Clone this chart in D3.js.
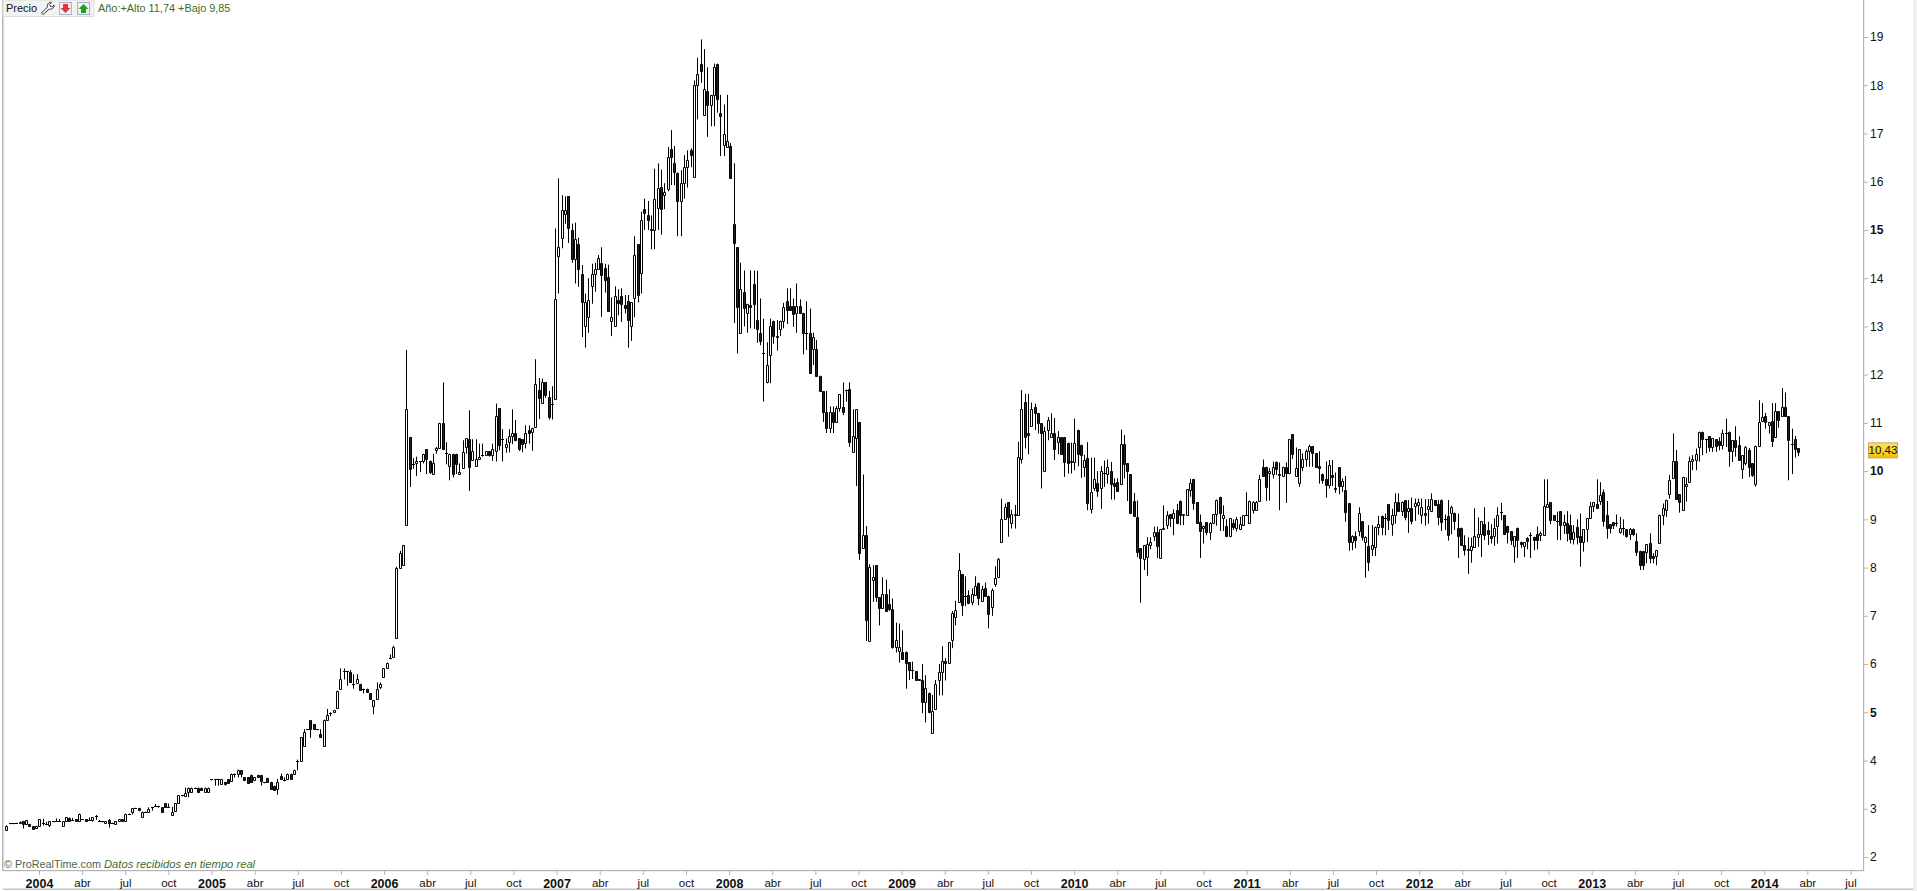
<!DOCTYPE html>
<html lang="es"><head><meta charset="utf-8">
<script src="https://cdn.jsdelivr.net/npm/d3@7/dist/d3.min.js"></script>
<style>html,body{margin:0;padding:0;background:#fff;overflow:hidden}svg{display:block}text{font-family:"Liberation Sans",Arial,sans-serif}</style>
</head><body><div id="chart"></div>
<script>
// each row: open, high, low, close (weekly)
const candlesA=[[2.55,2.66,2.55,2.65],[2.7,2.7,2.7,2.7],[2.7,2.7,2.7,2.7],[2.71,2.71,2.71,2.71],[2.7,2.74,2.7,2.73],[2.74,2.75,2.59,2.69],[2.69,2.77,2.69,2.76],[2.69,2.69,2.62,2.64],[2.64,2.64,2.58,2.58],[2.6,2.65,2.6,2.65],
[2.65,2.78,2.65,2.78],[2.71,2.79,2.65,2.71],[2.69,2.73,2.66,2.69],[2.66,2.74,2.62,2.74],[2.74,2.74,2.74,2.74],[2.75,2.8,2.73,2.75],[2.75,2.79,2.73,2.75],[2.65,2.74,2.65,2.74],[2.74,2.82,2.74,2.82],[2.81,2.82,2.73,2.75],
[2.77,2.81,2.75,2.77],[2.78,2.78,2.73,2.74],[2.74,2.9,2.74,2.9],[2.79,2.79,2.78,2.79],[2.78,2.78,2.73,2.74],[2.77,2.82,2.76,2.77],[2.77,2.82,2.73,2.82],[2.86,2.87,2.77,2.86],[2.75,2.77,2.74,2.75],[2.74,2.74,2.74,2.74],
[2.7,2.74,2.7,2.74],[2.77,2.79,2.61,2.7],[2.71,2.71,2.71,2.71],[2.69,2.74,2.69,2.74],[2.74,2.78,2.74,2.78],[2.78,2.78,2.73,2.74],[2.74,2.9,2.74,2.9],[2.9,2.9,2.9,2.9],[2.93,3.01,2.88,3.01],[3.02,3.02,3.02,3.02],
[3.02,3.02,2.95,2.97],[2.83,2.94,2.83,2.94],[2.94,2.94,2.94,2.94],[2.94,3.03,2.94,2.99],[3.03,3.03,2.96,3.03],[3.06,3.1,3.04,3.06],[3.06,3.06,3.02,3.06],[3.03,3.03,2.94,2.94],[3.11,3.11,3.03,3.03],[3.03,3.11,3.03,3.03],
[2.88,3.04,2.88,2.94],[2.96,3.11,2.96,3.11],[3.11,3.28,3.11,3.28],[3.28,3.28,3.28,3.28],[3.27,3.44,3.27,3.32],[3.35,3.44,3.24,3.44],[3.35,3.44,3.35,3.44],[3.44,3.44,3.44,3.44],[3.44,3.44,3.35,3.35],[3.44,3.44,3.38,3.38],
[3.35,3.44,3.35,3.44],[3.35,3.44,3.35,3.44],[3.61,3.61,3.61,3.61],[3.61,3.61,3.48,3.61],[3.62,3.62,3.48,3.62],[3.52,3.62,3.52,3.62],[3.56,3.56,3.48,3.52],[3.61,3.61,3.52,3.53],[3.57,3.73,3.57,3.73],[3.73,3.73,3.65,3.73],
[3.73,3.81,3.65,3.81],[3.8,3.8,3.65,3.73],[3.65,3.65,3.6,3.6],[3.66,3.66,3.54,3.54],[3.71,3.71,3.56,3.56],[3.6,3.66,3.6,3.66],[3.71,3.71,3.66,3.66],[3.69,3.69,3.48,3.58],[3.55,3.55,3.55,3.55],[3.64,3.64,3.56,3.56],
[3.56,3.56,3.42,3.42],[3.48,3.48,3.38,3.38],[3.42,3.62,3.29,3.56],[3.67,3.73,3.61,3.61],[3.6,3.65,3.57,3.6],[3.61,3.73,3.61,3.73],[3.73,3.73,3.61,3.61],[3.73,3.81,3.73,3.81],[3.99,4.02,3.8,3.99],[3.99,4.48,3.99,4.48],
[4.31,4.65,4.31,4.6],[4.65,4.65,4.65,4.65],[4.84,4.84,4.47,4.65],[4.75,4.76,4.65,4.65],[4.65,4.65,4.65,4.65],[4.56,4.65,4.49,4.49],[4.31,4.85,4.31,4.85],[4.85,5.07,4.85,4.95],[4.98,5.0,4.92,4.98],[5.0,5.05,5.0,5.05],
[5.09,5.45,5.09,5.45],[5.49,5.91,5.49,5.7],[5.86,5.91,5.68,5.86],[5.86,5.86,5.55,5.86],[5.84,5.88,5.63,5.63],[5.59,5.79,5.49,5.59],[5.6,5.79,5.6,5.7],[5.59,5.59,5.46,5.46],[5.49,5.49,5.39,5.49],[5.49,5.49,5.42,5.42],
[5.39,5.39,5.28,5.28],[5.14,5.25,4.96,5.25],[5.28,5.62,5.28,5.49],[5.52,5.62,5.48,5.59],[5.74,5.91,5.74,5.91],[5.91,6.03,5.91,6.03],[6.12,6.2,6.1,6.12],[6.14,6.38,6.14,6.35],[6.55,8.02,6.55,8.0],[8.0,8.35,8.0,8.3]];
const candlesB=[[8.05,8.47,8.05,8.46],[8.89,12.51,8.89,11.28],[10.71,10.71,9.67,10.05],[10.15,10.27,10.05,10.15],[10.16,10.3,9.9,10.21],[10.2,10.2,9.98,10.2],[10.2,10.36,10.16,10.36],[10.45,10.45,9.94,10.25],[10.22,10.22,9.94,9.98],[9.94,10.36,9.94,10.16],
[10.43,10.5,10.36,10.47],[10.48,11.0,10.48,11.0],[11.0,11.84,10.45,10.45],[10.38,10.6,10.14,10.38],[10.11,10.36,9.81,10.36],[10.36,10.36,9.87,9.94],[10.36,10.36,9.94,10.15],[9.94,10.16,9.94,9.99],[10.07,10.64,10.07,10.39],[10.49,10.68,10.36,10.68],
[10.66,11.26,9.59,10.09],[10.23,10.66,10.23,10.42],[10.1,10.66,10.1,10.25],[10.25,10.57,10.25,10.3],[10.34,10.57,10.3,10.34],[10.34,10.42,10.34,10.42],[10.42,10.42,10.3,10.34],[10.34,10.57,10.21,10.45],[10.42,11.4,10.2,11.15],[11.3,11.3,10.43,10.55],
[10.66,10.87,10.2,10.66],[10.5,10.68,10.38,10.57],[10.6,10.87,10.39,10.73],[10.73,11.28,10.56,10.78],[10.78,11.06,10.62,10.64],[10.68,10.68,10.42,10.45],[10.66,10.66,10.39,10.57],[10.59,10.95,10.47,10.79],[10.86,10.95,10.57,10.79],[10.82,10.9,10.42,10.9],
[10.92,12.32,10.92,11.8],[11.68,11.93,11.08,11.51],[11.42,11.92,11.42,11.84],[11.84,11.84,11.52,11.57],[11.53,11.66,11.07,11.13],[11.39,11.76,11.07,11.39]];
const candlesC=[[11.5,15.03,11.5,13.56],[14.46,16.07,13.68,14.65],[14.84,15.72,14.62,15.42],[15.34,15.7,15.13,15.42],[15.7,15.7,14.73,15.04],[15.0,15.13,14.32,14.39],[14.39,15.15,13.89,14.82],[14.7,14.84,13.82,14.2],[14.08,14.27,12.78,13.51],[13.0,13.68,12.56,13.5],
[13.2,14.0,12.87,13.54],[13.84,14.3,13.47,14.08],[14.08,14.32,13.72,14.2],[14.2,14.48,14.2,14.42],[14.32,14.64,13.2,14.06],[14.22,14.3,13.7,13.96],[14.02,14.28,13.32,13.32],[13.12,13.6,12.8,13.2],[13.0,13.83,13.0,13.64],[13.54,13.77,13.23,13.49],
[13.64,13.79,13.09,13.46],[13.44,13.65,13.27,13.39],[13.52,13.65,12.56,13.14],[13.0,13.5,12.7,13.5],[13.58,14.87,13.19,14.49],[14.7,14.7,13.5,13.66],[14.1,15.38,13.68,15.2],[15.44,15.65,15.0,15.35],[15.3,15.6,15.0,15.2],[15.01,15.3,14.6,14.99],
[14.99,16.27,14.6,15.65],[15.46,16.38,15.0,15.86],[15.88,16.25,14.9,15.44],[15.73,15.97,15.43,15.79],[15.85,16.72,15.8,16.52],[16.67,17.07,15.93,16.52],[16.38,16.74,15.93,16.2],[16.19,16.19,14.87,15.6],[15.6,16.24,14.87,15.98],[15.98,16.55,15.65,16.3],
[16.3,16.65,15.88,16.44],[16.65,16.69,16.3,16.56],[16.1,18.1,16.1,18.0],[18.0,18.57,17.29,18.24],[18.45,18.95,18.05,18.3],[17.38,18.75,17.36,17.93],[17.89,18.37,16.93,17.6],[17.6,17.8,17.15,17.79],[17.79,18.45,17.15,18.37],[18.45,18.45,17.43,17.72],
[17.43,17.8,16.53,17.36],[16.77,17.6,16.53,16.98],[16.72,17.8,16.7,16.84],[16.73,16.8,16.08,16.08]];
const candlesD=[[15.13,16.38,13.07,14.72],[14.64,14.64,12.44,13.41],[12.87,14.32,12.87,13.77],[13.72,14.16,13.0,13.39],[13.28,13.47,12.87,13.47],[13.45,14.16,12.96,13.41],[13.87,14.16,12.95,13.46],[13.13,14.15,12.66,12.95],[12.87,13.58,12.61,12.7],[12.44,13.16,11.44,12.44],
[11.85,12.67,11.82,12.21],[12.41,13.16,11.82,13.01],[13.12,13.12,12.64,12.8],[12.8,13.13,12.5,12.78],[12.95,13.12,12.8,13.12],[13.12,13.49,12.96,13.41],[13.52,13.79,13.05,13.33],[13.43,13.79,13.33,13.33],[13.43,13.58,12.99,13.26],[13.27,13.89,12.87,13.42],
[13.42,13.56,13.27,13.27],[13.28,13.28,12.42,12.87],[12.87,13.52,12.51,12.87],[12.87,13.37,12.04,12.04],[12.54,12.87,12.2,12.79],[12.54,12.72,11.98,11.98],[11.98,11.98,11.66,11.66],[11.66,11.66,11.02,11.23],[11.23,11.66,10.79,10.9],[10.9,11.34,10.79,11.23],
[11.23,11.34,10.79,11.02],[11.02,11.35,11.02,11.3],[11.3,11.59,11.23,11.59],[11.33,11.84,11.16,11.23],[11.69,11.69,11.44,11.69],[11.71,11.84,10.5,10.61],[10.4,11.28,10.4,10.73],[10.68,11.28,9.69,11.28],[11.01,11.01,8.16,8.31],[8.4,9.93,8.4,8.67],
[8.67,8.86,6.48,6.92],[6.48,8.07,6.48,8.01],[7.75,8.05,7.29,7.8],[8.05,8.05,7.29,7.38],[7.38,7.38,6.8,7.17],[7.17,7.8,7.17,7.45],[7.45,7.75,7.1,7.1],[7.24,7.55,7.1,7.15],[7.15,7.36,6.32,6.36],[6.36,6.86,6.24,6.49],
[6.27,6.84,6.03,6.36],[6.26,6.7,6.11,6.11],[6.26,6.26,5.49,6.03],[6.04,6.04,5.67,5.88],[5.88,6.05,5.69,5.88],[5.85,5.86,5.66,5.66],[5.68,5.68,5.66,5.66],[5.66,6.0,4.98,5.22],[5.22,5.77,4.79,5.5],[5.41,5.41,4.98,5.01],
[4.58,5.36,4.58,5.03],[5.06,5.67,5.06,5.58],[5.66,6.0,5.35,5.83],[5.84,6.37,5.35,6.06],[6.06,6.12,5.66,6.02],[6.02,6.45,6.02,6.45],[6.5,7.1,6.33,7.05],[6.98,7.31,6.8,7.13],[7.29,8.3,7.29,7.94],[7.87,7.87,7.0,7.22],
[7.42,7.82,7.2,7.42],[7.43,7.53,7.24,7.26],[7.29,7.57,7.22,7.46],[7.43,7.82,7.43,7.61],[7.69,7.69,7.22,7.37],[7.31,7.62,7.31,7.55],[7.57,7.69,7.42,7.42],[7.42,7.42,6.74,7.03],[7.19,7.57,7.0,7.53],[7.67,8.03,7.6,7.79],
[7.8,8.2,7.8,8.17]];
const candlesE=[[8.54,9.43,8.54,9.0],[9.0,9.33,9.0,9.26],[9.35,9.35,8.64,9.04],[8.92,9.2,8.81,9.12],[9.11,9.3,8.81,9.08],[9.09,10.61,9.09,10.3],[10.26,11.68,10.16,11.28],[11.44,11.6,10.47,10.7],[10.78,11.6,10.35,10.74],[10.93,11.42,10.93,11.28],
[11.32,11.4,10.85,11.2],[11.2,11.2,10.78,10.99],[10.99,10.99,9.64,10.78],[10.01,10.92,10.01,10.84],[10.85,11.12,10.64,11.05],[10.7,11.2,10.7,10.78],[10.8,11.1,10.23,10.46],[10.61,10.83,10.35,10.7],[10.7,10.7,10.35,10.35],[10.7,10.7,9.88,10.19],
[10.59,10.59,9.95,10.17],[10.22,10.59,9.95,10.18],[10.19,11.09,10.02,10.59],[10.86,10.86,10.1,10.35],[10.55,10.55,9.86,10.34],[10.08,10.34,9.88,10.23],[10.28,10.6,9.19,9.33],[9.22,10.28,9.12,9.57],[9.66,10.28,9.59,9.83],[9.76,10.0,9.47,9.59],
[9.66,10.1,9.22,10.01],[9.97,10.22,9.67,9.97],[9.94,10.24,9.74,10.08],[10.01,10.19,9.41,9.74],[9.76,9.85,9.41,9.7],[9.78,9.85,9.58,9.58],[9.74,10.86,9.74,10.57],[10.57,10.75,9.85,10.14],[10.16,10.16,9.38,10.0],[9.94,9.94,9.14,9.14],
[9.39,9.55,9.06,9.06],[9.05,9.39,8.22,8.33],[8.4,8.4,7.27,8.19],[8.18,8.47,7.95,8.47],[8.22,8.63,7.83,8.49],[8.46,8.63,8.38,8.54],[8.65,8.85,8.55,8.73],[8.73,8.85,8.2,8.45],[8.2,8.79,8.2,8.79],[8.82,9.29,8.8,8.79],
[8.88,9.17,8.8,9.09],[9.11,9.11,8.84,9.03],[9.02,9.21,8.67,9.14],[9.2,9.32,8.9,8.93],[9.39,9.39,8.88,9.08],[9.08,9.11,8.88,9.11],[9.09,9.62,9.09,9.62],[9.6,9.84,9.47,9.76],[9.84,9.84,9.2,9.34],[9.35,9.35,8.91,8.93],
[8.94,9.1,8.2,8.76],[8.83,8.87,8.5,8.87],[8.94,8.94,8.67,8.74],[8.74,8.94,8.57,8.93],[8.93,9.11,8.93,9.11],[9.11,9.41,8.87,9.41],[9.47,9.47,8.76,9.14],[9.03,9.29,8.76,9.08],[8.86,9.0,8.63,8.66],[8.66,9.02,8.63,9.02],
[8.93,9.0,8.78,8.84],[8.83,9.05,8.75,9.0],[8.81,9.05,8.81,8.9],[8.89,9.09,8.89,9.09],[9.09,9.56,9.09,9.09],[8.93,9.39,8.93,9.39],[9.19,9.38,9.12,9.36],[9.2,9.38,9.2,9.37],[9.38,9.92,9.38,9.83],[10.09,10.24,9.9,9.9],
[10.09,10.09,9.38,9.67],[9.97,10.06,9.39,10.0],[9.93,10.2,9.85,10.09],[10.18,10.2,9.92,10.05],[9.95,10.18,9.19,9.91],[9.9,10.09,9.9,10.09],[10.09,10.18,9.34,9.97],[9.97,10.66,9.97,10.66]];
const candlesF=[[10.77,10.77,10.25,10.36],[9.9,10.49,9.9,10.07],[9.76,10.45,9.67,10.45],[10.09,10.37,10.0,10.26],[10.26,10.45,10.09,10.41],[10.42,10.55,10.09,10.52],[10.52,10.52,10.09,10.37],[10.37,10.37,10.09,10.09],[10.11,10.41,9.74,10.07],[9.94,9.95,9.74,9.81],
[9.83,10.2,9.45,9.72],[9.72,10.23,9.64,10.12],[9.91,10.23,9.69,9.87],[9.66,9.97,9.55,9.63],[10.08,10.08,9.52,9.7],[9.7,9.85,9.57,9.8],[9.6,9.9,8.95,9.16],[9.33,9.33,8.35,8.54],[8.54,8.67,8.36,8.65],[8.65,8.75,8.4,8.58],
[8.76,9.25,8.65,9.14],[8.96,8.96,8.56,8.63],[8.54,8.65,7.79,8.63],[8.44,8.88,7.93,8.12],[8.38,8.88,8.24,8.46],[8.43,8.85,8.24,8.85],[8.85,9.07,8.67,8.9],[9.06,9.08,8.67,8.85],[9.03,9.12,8.67,9.03],[9.31,9.31,8.78,8.98],
[8.91,9.22,8.66,9.09],[9.09,9.54,8.91,9.37],[9.37,9.54,9.18,9.18],[9.18,9.37,9.07,9.37],[9.4,9.4,8.98,9.04],[9.18,9.4,8.72,9.24],[9.24,9.45,8.9,8.97],[9.27,9.43,8.97,9.34],[9.3,9.43,9.1,9.37],[9.09,9.43,8.91,9.25],
[9.14,9.42,8.87,9.09],[9.21,9.42,8.91,9.27],[9.17,9.54,9.17,9.43],[9.4,9.4,9.3,9.3],[9.31,9.4,8.88,9.05],[9.41,9.41,8.76,8.95],[9.0,9.1,8.78,9.0],[9.07,9.4,8.56,8.67],[9.14,9.28,8.69,9.25],[9.14,9.14,8.78,8.97],
[8.83,9.12,8.2,8.66],[8.83,8.83,8.47,8.47],[8.47,8.67,8.25,8.37],[8.38,8.63,7.87,8.36],[8.37,8.62,8.1,8.44],[8.43,9.23,8.43,8.65],[8.63,9.04,8.43,8.7],[8.69,8.96,8.22,8.96],[8.9,9.25,8.57,8.67],[8.77,8.95,8.47,8.69],
[8.65,8.9,8.5,8.62],[8.66,9.02,8.45,8.82],[8.87,9.25,8.5,9.08],[9.16,9.34,8.98,9.16],[9.09,9.09,8.7,8.7],[8.87,8.87,8.5,8.74],[8.75,8.75,8.47,8.57],[8.45,8.65,8.1,8.65],[8.83,8.83,8.2,8.57],[8.54,8.54,8.41,8.49],
[8.44,8.53,8.22,8.53],[8.61,8.63,8.38,8.56],[8.68,8.73,8.2,8.68],[8.63,8.64,8.36,8.58],[8.69,8.85,8.38,8.58],[8.67,8.75,8.55,8.71],[8.68,9.83,8.68,9.27],[9.26,9.83,9.26,9.31]];
const candlesG=[[9.35,9.35,8.9,8.98],[9.09,9.09,8.98,8.98],[8.96,9.16,8.57,8.96],[9.17,9.17,8.57,8.88],[8.89,9.1,8.7,8.94],[8.93,9.17,8.54,8.72],[8.88,9.1,8.5,8.59],[8.6,8.88,8.48,8.73],[8.84,9.0,8.48,8.64],[8.65,9.12,8.02,8.53],
[8.53,8.8,8.33,8.8],[8.79,9.03,8.53,9.03],[9.03,9.36,9.03,9.27],[9.28,9.35,9.15,9.35],[9.31,9.83,9.23,9.23],[9.39,9.77,9.3,9.5],[9.56,9.62,8.85,8.97],[9.09,9.38,8.6,8.82],[8.9,8.9,8.71,8.82],[8.94,8.94,8.8,8.89],
[8.93,9.1,8.85,8.93],[8.74,9.05,8.7,8.83],[8.83,9.0,8.67,8.83],[8.79,8.79,8.62,8.66],[8.69,8.82,8.57,8.81],[8.79,8.81,8.65,8.69],[8.55,8.71,8.24,8.33],[8.35,8.35,7.95,8.06],[8.34,8.34,7.95,8.06],[8.32,8.49,8.09,8.49],
[8.5,8.71,8.09,8.19],[8.25,8.3,8.09,8.2],[8.25,8.36,8.05,8.36],[8.52,9.1,8.49,9.1],[9.08,9.33,8.88,9.23],[9.2,9.41,9.05,9.41],[9.52,9.92,9.43,9.81],[9.85,10.78,9.85,10.22],[10.22,10.44,9.4,9.42],[9.52,9.52,9.14,9.35],
[9.19,9.88,9.19,9.88],[9.7,9.87,9.37,9.74],[9.78,10.3,9.78,10.22],[10.22,10.33,10.02,10.26],[10.24,10.47,10.02,10.35],[10.5,10.82,10.2,10.82],[10.82,10.82,10.33,10.67],[10.67,10.67,10.37,10.67],[10.72,10.72,10.4,10.5],[10.5,10.68,10.4,10.68],
[10.66,10.66,10.4,10.52],[10.62,10.7,10.43,10.54],[10.55,10.86,10.45,10.78],[10.8,11.09,10.5,10.8],[10.82,10.82,10.09,10.42],[10.42,10.64,10.19,10.64],[10.64,10.93,10.3,10.5],[10.54,10.72,10.22,10.23],[10.05,10.33,9.84,10.33],[10.17,10.52,10.12,10.49],
[10.44,10.48,9.88,10.09],[10.16,10.16,9.88,9.92],[9.73,10.53,9.68,10.53],[10.53,11.47,10.53,11.02],[11.03,11.41,11.03,11.13],[11.14,11.21,10.88,11.02],[10.95,11.02,10.78,11.02],[11.03,11.41,10.5,10.63],[10.71,11.41,10.71,11.24],[11.24,11.24,10.9,11.07],
[11.15,11.72,11.15,11.32],[11.32,11.63,11.14,11.14],[11.14,11.14,9.81,10.64],[10.57,10.88,9.94,10.57],[10.66,10.73,10.28,10.46],[10.47,10.47,10.31,10.4]];

const quarterLabels=["2004","abr","jul","oct","2005","abr","jul","oct","2006","abr","jul","oct","2007","abr","jul","oct","2008","abr","jul","oct","2009","abr","jul","oct","2010","abr","jul","oct","2011","abr","jul","oct","2012","abr","jul","oct","2013","abr","jul","oct","2014","abr","jul"];
const priceTicks=[2,3,4,5,6,7,8,9,10,11,12,13,14,15,16,17,18,19];
const boldPrices=[5,10,15];
const lastPriceLabel="10,43", lastPrice=10.43;
const legendTitle="Precio", legendRange="Año:+Alto 11,74 +Bajo 9,85";
const footerBrand="© ProRealTime.com", footerNote="Datos recibidos en tiempo real";

const candles=[].concat(candlesA,candlesB,candlesC,candlesD,candlesE,candlesF,candlesG);
const W=1917,H=891;
const svg=d3.select("#chart").append("svg").attr("width",W).attr("height",H);
const x=d3.scaleLinear().domain([0,candles.length-1]).range([6.3,1798.3]);
const y=d3.scaleLinear().domain([2,19]).range([857,37]);
const grey="#b4b4b4";

svg.append("rect").attr("x",1913).attr("y",0).attr("width",4).attr("height",H).attr("fill","#f0f0f0");
svg.append("rect").attr("x",2).attr("y",0).attr("width",1.5).attr("height",871).attr("fill",grey);
svg.append("rect").attr("x",3).attr("y",870).attr("width",1861).attr("height",1.2).attr("fill",grey);
svg.append("rect").attr("x",1863).attr("y",0).attr("width",1.2).attr("height",871).attr("fill",grey);
svg.append("rect").attr("x",3).attr("y",888.6).attr("width",1910).attr("height",1.2).attr("fill",grey);

// candles
const g=svg.append("g");
const cx=i=>Math.round(x(i));
const row=g.selectAll("g").data(candles).join("g");
row.append("rect").attr("x",(d,i)=>cx(i)).attr("width",1)
  .attr("y",d=>y(d[1])).attr("height",d=>Math.max(1,y(d[2])-y(d[1]))).attr("fill","#000");
row.append("path")
  .attr("d",(d,i)=>{
    const top=Math.round(y(Math.max(d[0],d[3])))+0.5;
    const bot=Math.round(y(Math.min(d[0],d[3])))+0.5;
    const p=d3.path();
    p.rect(cx(i)-0.5,top,2,bot-top);
    return bot>top?p.toString():`M${cx(i)-1},${top}H${cx(i)+2}`;
  })
  .attr("fill",d=>d[3]>=d[0]?"#fff":"#222").attr("stroke","#000").attr("stroke-width",1);

// x axis
const firstTickWeek=9.89, weeksPerQuarter=13.045;
const xTicks=quarterLabels.map((_,k)=>firstTickWeek+k*weeksPerQuarter);
const xAxis=svg.append("g").attr("transform","translate(0,871)")
  .call(d3.axisBottom(x).tickValues(xTicks).tickSize(4).tickPadding(4).tickFormat((d,i)=>quarterLabels[i]));
xAxis.select(".domain").remove();
xAxis.selectAll("line").attr("stroke",grey);
xAxis.selectAll("text").attr("fill","#111")
  .style("font-size",(d,i)=>/^\d/.test(quarterLabels[i])?"12.5px":"11.5px")
  .style("font-weight",(d,i)=>/^\d/.test(quarterLabels[i])?"700":"400");

// y axis
const yAxis=svg.append("g").attr("transform","translate(1864,0)")
  .call(d3.axisRight(y).tickValues(priceTicks).tickSize(4).tickPadding(2).tickFormat(d3.format("d")));
yAxis.select(".domain").remove();
yAxis.selectAll("line").attr("stroke",grey);
yAxis.selectAll("text").attr("fill","#111").style("font-size","12px")
  .style("font-weight",d=>boldPrices.includes(d)?"700":"400");

// last price tag
const defs=svg.append("defs");
const grad=defs.append("linearGradient").attr("id","gold").attr("x1",0).attr("x2",0).attr("y1",0).attr("y2",1);
grad.append("stop").attr("offset","0").attr("stop-color","#ffe566");
grad.append("stop").attr("offset","1").attr("stop-color","#f6c000");
svg.append("rect").attr("x",1868.5).attr("y",y(lastPrice)-7.5).attr("width",29).attr("height",15)
  .attr("fill","url(#gold)").attr("stroke","#b9a877");
svg.append("text").attr("x",1883).attr("y",y(lastPrice)+4).attr("text-anchor","middle")
  .style("font-size","11.5px").attr("fill","#111").text(lastPriceLabel);

// legend
svg.append("rect").attr("x",3).attr("y",0).attr("width",91).attr("height",16.5).attr("fill","#f2f2f2").attr("stroke","#dcdcdc");
svg.append("text").attr("x",6).attr("y",12).style("font-size","11px").attr("fill","#111").text(legendTitle);
svg.append("path").attr("d","M43 14.5 L41.5 13 L47.5 7 C46.8 4.5 48.5 2 51.5 2.3 L49.5 4.5 L50.5 6.5 L52.6 6.8 L54 5 C54.3 7.8 52 9.8 49.3 9 L43 14.5 Z")
  .attr("fill","#fff").attr("stroke","#222").attr("stroke-width",0.9);
const iconBox=(bx,fill,dPath)=>{
  svg.append("rect").attr("x",bx+0.5).attr("y",2.5).attr("width",12).attr("height",12).attr("fill","#fbeef0").attr("stroke","#9db4cc");
  svg.append("path").attr("d",dPath).attr("fill",fill);
};
iconBox(59,"#e0353a","M63 4 H68 V8 H70.5 L65.5 13 L60.5 8 H63 Z");
iconBox(77,"#18a528","M83.5 4 L88.5 9 H86 V13 H81 V9 H78.5 Z");
svg.append("text").attr("x",98).attr("y",12).style("font-size","10.9px").attr("fill","#3f6b2c").text(legendRange);

// footer
svg.append("text").attr("x",4).attr("y",868).style("font-size","10.8px").attr("fill","#4a6650").text(footerBrand);
svg.append("text").attr("x",104).attr("y",868).style("font-size","11.2px").style("font-style","italic").attr("fill","#3f6b2c").text(footerNote);
</script></body></html>
